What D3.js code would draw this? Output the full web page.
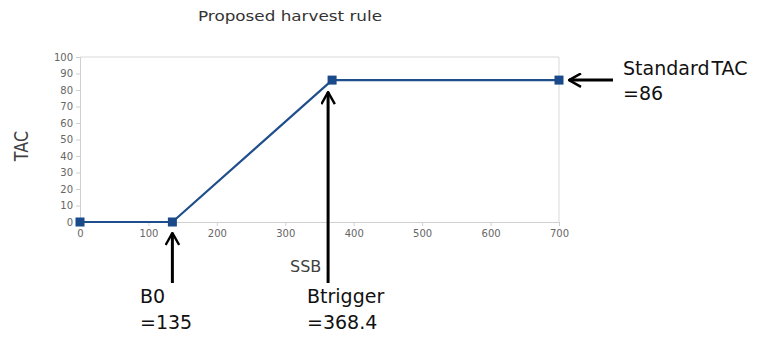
<!DOCTYPE html>
<html>
<head>
<meta charset="utf-8">
<script src="https://cdn.jsdelivr.net/npm/d3@7"></script>
<style>
  body { margin: 0; background: #fff; }
  svg text { font-family: "DejaVu Sans", sans-serif; }
  .note { font-size: 19px; fill: #111; }
</style>
</head>
<body>
<svg width="761" height="338"></svg>
<script>
const ssb = [0, 135, 368.4, 700];
const tac = [0, 0, 86, 86];
const xTicks = [0, 100, 200, 300, 400, 500, 600, 700];
const yTicks = [0, 10, 20, 30, 40, 50, 60, 70, 80, 90, 100];

const svg = d3.select('svg');

const x = d3.scaleLinear().domain([0, 700]).range([80, 559]);
const y = d3.scaleLinear().domain([0, 100]).range([222, 57]);

// frame lines (top + right)
svg.append('line').attr('x1', x(0)).attr('x2', x(700))
    .attr('y1', y(100)).attr('y2', y(100)).attr('stroke', '#d9d9d9');
svg.append('line').attr('x1', x(700)).attr('x2', x(700))
    .attr('y1', y(100)).attr('y2', y(0)).attr('stroke', '#d9d9d9');

// axes
const xAxis = svg.append('g')
    .attr('transform', `translate(0,${y(0)})`)
    .call(d3.axisBottom(x).tickValues(xTicks).tickSize(4).tickPadding(4));
const yAxis = svg.append('g')
    .attr('transform', `translate(${x(0)},0)`)
    .call(d3.axisLeft(y).tickValues(yTicks).tickSize(4).tickPadding(3));

[xAxis, yAxis].forEach(a => {
    a.select('.domain').attr('stroke', '#d0d0d0');
    a.selectAll('.tick line').attr('stroke', '#d0d0d0');
    a.selectAll('text').attr('fill', '#666')
        .style('font-family', '"DejaVu Sans", sans-serif').style('font-size', '10px');
});

// harvest rule line
const pts = ssb.map((d, i) => [d, tac[i]]);
svg.append('path')
    .datum(pts)
    .attr('fill', 'none')
    .attr('stroke', '#1f4e8c')
    .attr('stroke-width', 2.2)
    .attr('d', d3.line().x(d => x(d[0])).y(d => y(d[1])));

svg.selectAll('rect.pt')
    .data(pts)
    .enter()
    .append('rect')
    .attr('class', 'pt')
    .attr('x', d => x(d[0]) - 4.5)
    .attr('y', d => y(d[1]) - 4.5)
    .attr('width', 9)
    .attr('height', 9)
    .attr('fill', '#1a4a8a');

// titles
svg.append('text').attr('transform', 'translate(290,21) scale(1.2,1)')
    .attr('text-anchor', 'middle')
    .style('font-size', '14px').attr('fill', '#333').text('Proposed harvest rule');
svg.append('text').attr('x', 290).attr('y', 272)
    .style('font-size', '16px').attr('fill', '#404040').text('SSB');
svg.append('text').attr('transform', 'translate(28,146) scale(1.2,1) rotate(-90)')
    .attr('text-anchor', 'middle').style('font-size', '16px').attr('fill', '#404040').text('TAC');

// arrows
svg.append('defs').append('marker')
    .attr('id', 'head').attr('viewBox', '0 0 10 10')
    .attr('refX', 9).attr('refY', 5)
    .attr('markerWidth', 5).attr('markerHeight', 5)
    .attr('orient', 'auto-start-reverse')
    .append('path').attr('d', 'M1,0.5 L9,5 L1,9.5').attr('fill', 'none')
    .attr('stroke', '#000').attr('stroke-width', 1.6);

const arrows = [
    { x1: x(135), y1: 283, x2: x(135), y2: y(0) + 11 },
    { x1: x(368.4) - 4, y1: 283, x2: x(368.4) - 4, y2: y(86) + 12 },
    { x1: 613, y1: y(86), x2: x(700) + 10, y2: y(86) }
];
svg.selectAll('line.arrow')
    .data(arrows)
    .enter()
    .append('line')
    .attr('class', 'arrow')
    .attr('x1', d => d.x1).attr('y1', d => d.y1)
    .attr('x2', d => d.x2).attr('y2', d => d.y2)
    .attr('stroke', '#000').attr('stroke-width', 3)
    .attr('marker-end', 'url(#head)');

// notes
const notes = [
    { x: 140, y: 303, t: 'B0' },
    { x: 140, y: 329, t: '=135' },
    { x: 307, y: 303, t: 'Btrigger' },
    { x: 307, y: 329, t: '=368.4' },
    { x: 623, y: 75, t: 'Standard TAC' },
    { x: 623, y: 100, t: '=86' }
];
svg.selectAll('text.note')
    .data(notes)
    .enter()
    .append('text')
    .attr('class', 'note')
    .attr('x', d => d.x).attr('y', d => d.y)
    .style('word-spacing', '-4px')
    .text(d => d.t);
</script>
</body>
</html>
